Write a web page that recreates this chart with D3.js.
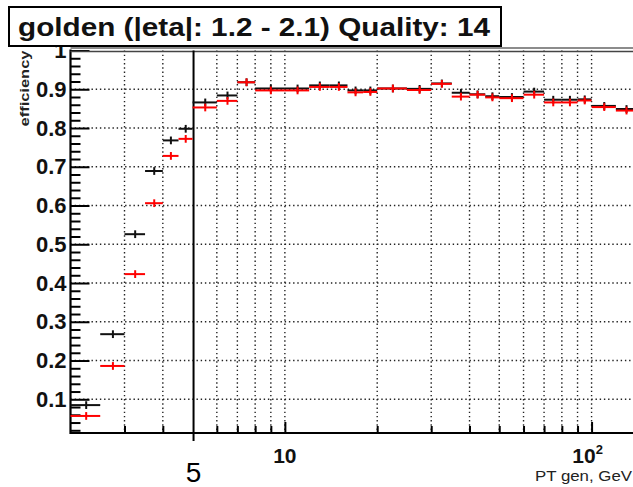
<!DOCTYPE html>
<html>
<head>
<meta charset="UTF-8">
<title>golden efficiency</title>
<script src="https://cdn.jsdelivr.net/npm/d3@7"></script>
<style>
    body { margin: 0; background: #fff; }
    svg { display: block; }
    text { font-family: "Liberation Sans", Arial, Helvetica, sans-serif; }
</style>
</head>
<body>
<svg width="633" height="487"></svg>
<script>
// bins in PT gen (GeV)
const binEdges = [2, 2.5, 3, 3.5, 4, 4.5, 5, 6, 7, 8, 10, 12, 14, 16, 18, 20, 25, 30, 35, 40, 45, 50, 60, 70, 80, 90, 100, 120, 140];

// black histogram
const effBlack = [0.085, 0.268, 0.526, 0.689, 0.768, 0.798, 0.866, 0.884, 0.918, 0.902, 0.902, 0.910, 0.910, 0.897,
                  0.897, 0.902, 0.901, 0.915, 0.891, 0.887, 0.882, 0.880, 0.894, 0.873, 0.873, 0.874, 0.857, 0.849];
const errBlack = [0.010, 0.010, 0.010, 0.010, 0.010, 0.010, 0.010, 0.010, 0.010, 0.010, 0.010, 0.010, 0.010, 0.010,
                  0.010, 0.010, 0.010, 0.010, 0.010, 0.010, 0.010, 0.010, 0.010, 0.010, 0.010, 0.010, 0.010, 0.010];
// red histogram
const effRed = [0.057, 0.186, 0.423, 0.606, 0.728, 0.772, 0.853, 0.870, 0.918, 0.897, 0.897, 0.906, 0.906, 0.892,
                0.893, 0.902, 0.898, 0.914, 0.881, 0.886, 0.879, 0.877, 0.886, 0.866, 0.866, 0.871, 0.854, 0.845];
const errRed = [0.010, 0.010, 0.010, 0.010, 0.010, 0.010, 0.010, 0.010, 0.010, 0.010, 0.010, 0.010, 0.010, 0.010,
                0.010, 0.010, 0.010, 0.010, 0.010, 0.010, 0.010, 0.010, 0.010, 0.010, 0.010, 0.010, 0.010, 0.010];

const yTicks = [0.1, 0.2, 0.3, 0.4, 0.5, 0.6, 0.7, 0.8, 0.9, 1];
const xGrid = [3, 4, 6, 7, 8, 9, 10, 20, 30, 40, 50, 60, 70, 80, 90, 100];
const xMinor = [3, 4, 6, 7, 8, 9, 20, 30, 40, 50, 60, 70, 80, 90];
const xMajor = [10, 100];
const cutValue = 5;

const svg = d3.select("svg");

const x = d3.scaleLog().domain([2, 150]).range([70.5, 70.5 + Math.log10(75) * 306.7]);
const y = d3.scaleLinear().domain([0.013, 1]).range([433, 50.5]);
const plotLeft = x(2), plotBottom = y(0.013), plotTop = y(1);

// grid
const grid = svg.append("g").attr("stroke", "#222").attr("stroke-width", 1.4).attr("stroke-dasharray", "1.4,2.8");
grid.selectAll(".gx").data(xGrid).enter().append("line")
    .attr("x1", d => x(d)).attr("x2", d => x(d)).attr("y1", plotTop).attr("y2", plotBottom);
grid.selectAll(".gy").data(yTicks.filter(d => d < 1)).enter().append("line")
    .attr("x1", plotLeft).attr("x2", 633).attr("y1", d => y(d)).attr("y2", d => y(d));

// y axis: labels outside, ticks inside
const minorY = d3.range(2, 100, 2).map(d => d / 100).filter(d => Math.round(d * 100) % 10 !== 0);
const yAxisMinor = svg.append("g").attr("transform", `translate(${plotLeft},0)`)
    .call(d3.axisLeft(y).tickValues(minorY).tickSize(-10).tickFormat(""));
const yAxis = svg.append("g").attr("transform", `translate(${plotLeft},0)`)
    .call(d3.axisLeft(y).tickValues(yTicks).tickSize(-19).tickPadding(4)
        .tickFormat(d => d === 1 ? "1" : d.toFixed(1)));
[yAxisMinor, yAxis].forEach(a => {
    a.select(".domain").remove();
    a.selectAll("line").attr("stroke", "#000").attr("stroke-width", 2);
});
yAxis.selectAll("text").attr("font-size", 22).attr("font-weight", "bold").attr("fill", "#111")
    .attr("font-family", "Liberation Sans, Arial, sans-serif");

// x axis ticks (upwards)
const xAxisMinor = svg.append("g").attr("transform", `translate(0,${plotBottom})`)
    .call(d3.axisBottom(x).tickValues(xMinor).tickSize(-7).tickFormat(""));
const xAxis = svg.append("g").attr("transform", `translate(0,${plotBottom})`)
    .call(d3.axisBottom(x).tickValues(xMajor).tickSize(-11).tickFormat(""));
[xAxisMinor, xAxis].forEach(a => {
    a.select(".domain").remove();
    a.selectAll("line").attr("stroke", "#000").attr("stroke-width", 2);
});

// frame lines
svg.append("line").attr("x1", plotLeft).attr("x2", plotLeft).attr("y1", plotTop - 1).attr("y2", plotBottom + 1)
    .attr("stroke", "#000").attr("stroke-width", 2.2);
svg.append("line").attr("x1", plotLeft).attr("x2", 633).attr("y1", plotBottom).attr("y2", plotBottom)
    .attr("stroke", "#000").attr("stroke-width", 2.2);
svg.append("line").attr("x1", plotLeft).attr("x2", 633).attr("y1", plotTop + 1).attr("y2", plotTop + 1)
    .attr("stroke", "#444").attr("stroke-width", 1.6);
svg.append("line").attr("x1", plotLeft).attr("x2", 633).attr("y1", plotTop - 2.5).attr("y2", plotTop - 2.5)
    .attr("stroke", "#666").attr("stroke-width", 1.6);

// x labels
svg.append("text").attr("x", x(10)).attr("y", 463).attr("text-anchor", "middle")
    .attr("font-size", 21).attr("font-weight", "bold").attr("fill", "#111").text("10");
const t100 = svg.append("text").attr("x", x(100) - 4).attr("y", 463).attr("text-anchor", "middle")
    .attr("font-size", 21).attr("font-weight", "bold").attr("fill", "#111");
t100.append("tspan").text("10");
t100.append("tspan").attr("font-size", 13).attr("dy", -9).text("2");
svg.append("text").attr("x", 632).attr("y", 481).attr("text-anchor", "end")
    .attr("font-size", 14).attr("fill", "#222").attr("textLength", 97).attr("lengthAdjust", "spacingAndGlyphs")
    .text("PT gen, GeV");

// y title
svg.append("text").attr("transform", `translate(29,${plotTop}) rotate(-90)`).attr("text-anchor", "end")
    .attr("font-size", 13).attr("font-weight", "bold").attr("fill", "#222")
    .attr("textLength", 76).attr("lengthAdjust", "spacingAndGlyphs").text("efficiency");

// cut line at 5 GeV
svg.append("line").attr("x1", x(cutValue) + 1).attr("x2", x(cutValue) + 1).attr("y1", plotTop).attr("y2", plotBottom + 8)
    .attr("stroke", "#000").attr("stroke-width", 2);
svg.append("text").attr("x", x(cutValue) + 1).attr("y", 482).attr("text-anchor", "middle")
    .attr("font-size", 28).attr("fill", "#000").text("5");

// histograms with error bars
function drawHist(vals, errs, color) {
    const bins = vals.map((v, i) => ({lo: binEdges[i], hi: binEdges[i + 1], v: v, e: errs[i]}));
    const g = svg.append("g").attr("stroke", color).attr("stroke-width", 2);
    g.selectAll(".h").data(bins).enter().append("line")
        .attr("x1", d => Math.max(x(d.lo), plotLeft)).attr("x2", d => x(d.hi))
        .attr("y1", d => y(d.v)).attr("y2", d => y(d.v));
    g.selectAll(".v").data(bins).enter().append("line")
        .attr("x1", d => x((d.lo + d.hi) / 2)).attr("x2", d => x((d.lo + d.hi) / 2))
        .attr("y1", d => y(d.v - d.e)).attr("y2", d => y(d.v + d.e));
}
drawHist(effBlack, errBlack, "#111");
drawHist(effRed, errRed, "#ff0000");

// title box
svg.append("rect").attr("x", 9).attr("y", 7).attr("width", 492).attr("height", 39)
    .attr("fill", "#fff").attr("stroke", "#000").attr("stroke-width", 2);
svg.append("text").attr("x", 18).attr("y", 36).attr("font-size", 26).attr("font-weight", "bold")
    .attr("fill", "#111").attr("textLength", 472).attr("lengthAdjust", "spacingAndGlyphs")
    .text("golden (|eta|: 1.2 - 2.1) Quality: 14");
</script>
</body>
</html>
